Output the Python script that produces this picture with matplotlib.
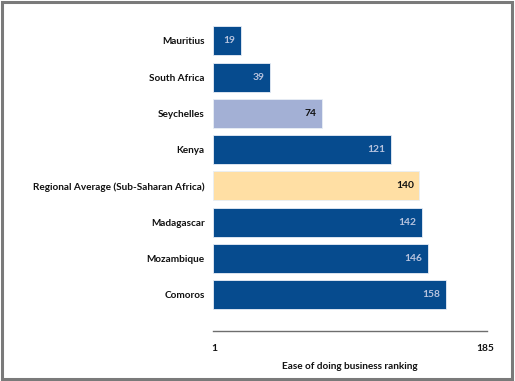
import matplotlib
matplotlib.use("Agg")
import matplotlib.pyplot as plt
from matplotlib.patches import Rectangle

plt.rcParams["font.family"] = ["Lato", "DejaVu Sans"]

countries = ["Mauritius", "South Africa", "Seychelles", "Kenya",
             "Regional Average (Sub-Saharan Africa)", "Madagascar",
             "Mozambique", "Comoros"]
ranks = [19, 39, 74, 121, 140, 142, 146, 158]
kinds = ["dark", "dark", "light", "dark", "avg", "dark", "dark", "dark"]

bar_colors = {"dark": "#064B8E", "light": "#A3B0D5", "avg": "#FFDFA4"}
text_colors = {"dark": "#B7C3DE", "light": "#111111", "avg": "#111111"}

fig = plt.figure(figsize=(5.15, 3.81), dpi=100)
ax = fig.add_axes([0.4136, 0.131, 0.532, 0.819])

ypos = list(range(len(countries)))
colors = [bar_colors[k] for k in kinds]
ax.barh(ypos, ranks, height=0.8, color=colors, edgecolor="#E8EEF6", linewidth=0.6)

for y, v, k in zip(ypos, ranks, kinds):
    ax.annotate(str(v), xy=(v, y), xytext=(-4, 0), textcoords="offset points",
                ha="right", va="center", fontsize=7.4, fontweight="bold",
                color=text_colors[k])

ax.set_xlim(0, 186)
ax.set_ylim(8.0, -0.6)
ax.set_yticks(ypos)
ax.set_yticklabels(countries, fontsize=7.2, fontweight="bold", color="#111111")
ax.set_xticks([1, 185])
ax.set_xticklabels(["1", "185"], fontsize=7.4, fontweight="bold", color="#111111")
ax.tick_params(axis="both", length=0)
ax.tick_params(axis="y", pad=6)
ax.tick_params(axis="x", pad=9)
ax.set_xlabel("Ease of doing business ranking", fontsize=7.2, fontweight="bold",
              color="#111111", labelpad=7)

for side in ["top", "right", "left"]:
    ax.spines[side].set_visible(False)
ax.spines["bottom"].set_color("#6E6E6E")
ax.spines["bottom"].set_linewidth(1.0)

# frame round the whole figure
fig.patches.append(Rectangle((0.003, 0.004), 0.992, 0.990, transform=fig.transFigure,
                             fill=False, edgecolor="#7A7A7A", linewidth=2.2))

fig.savefig("out.png", dpi=100)
